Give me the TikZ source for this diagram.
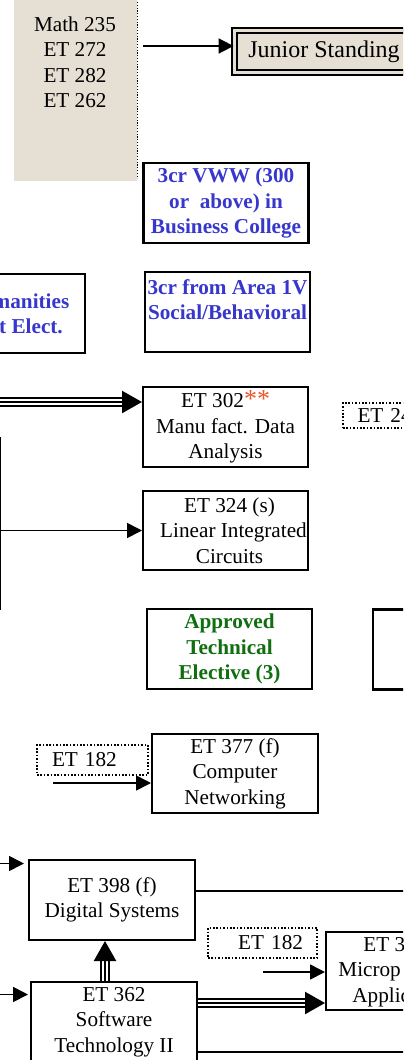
\documentclass[tikz,border=0pt]{standalone}
\usepackage{fontspec}
\setmainfont{Liberation Serif}
\usetikzlibrary{arrows.meta}

\definecolor{paper}{RGB}{229,223,212}
\definecolor{electblue}{RGB}{55,55,205}
\definecolor{electgreen}{RGB}{16,110,16}
\definecolor{starred}{RGB}{232,88,40}

\newcommand\coursefont{\fontsize{10.6}{12.75}\selectfont}
\newcommand\triplearrow[2]{
  \draw[line width=5pt, shorten >=9pt] (#1) -- (#2);
  \draw[line width=2.6pt, white, shorten >=8pt] (#1) -- (#2);
  \draw[line width=1.2pt, -{Triangle[length=10pt,width=11pt]}] (#1) -- (#2);
}

\begin{document}
\begin{tikzpicture}[
    x=0.5pt, y=-0.5pt,
    course/.style={draw, line width=1pt, align=center, font=\coursefont,
      inner sep=0pt, minimum width=82.5pt, minimum height=40pt},
    elective/.style={course, line width=1.2pt,
      font=\fontsize{10.6}{12.6}\selectfont\bfseries},
    prior/.style={draw, line width=0.8pt, dash pattern=on 0.8pt off 0.9pt,
      font=\coursefont, inner xsep=7pt, inner ysep=0pt,
      minimum height=15pt, text width=40.5pt},
    arr/.style={line width=0.85pt, -{Triangle[length=7.5pt,width=7.5pt]}}
  ]
    \path[use as bounding box] (0,0) rectangle (403,1060);
    \clip (0,0) rectangle (403,1060);

    % prerequisites and junior standing
    \node[fill=paper, inner sep=0pt, minimum width=61.5pt, minimum height=100.5pt]
      (core) at (75.5,80.5) {};
    \draw[line width=0.6pt, dash pattern=on 0.6pt off 0.8pt]
      (core.north east) -- ([yshift=1.5pt]core.south east);
    \node[font=\coursefont, align=center] (coreTxt) at (75,62)
      {Math 235\\ET 272\\ET 282\\ET 262};
    \node[draw, line width=0.9pt, double=paper, double distance=1.4pt,
      fill=paper, minimum width=89.5pt, minimum height=21pt,
      font=\fontsize{12}{14}\selectfont] (junior) at (324,51.5) {Junior Standing};
    \coordinate (toJunior) at (143,46);
    \draw[arr] (toJunior) -- (toJunior -| junior.west);

    % electives
    \node[elective, text=electblue] (vww) at (226,203)
      {3cr VWW (300\\or~ above) in\\Business College};
    \node[elective, text=electblue] (social) at (227.5,312)
      {3cr from Area 1V\\Social/Behavioral\\\mbox{}};
    \node[elective, text=electblue, minimum width=54pt, minimum height=39.5pt]
      (human) at (31,313.5) {manities\\t Elect.};
    \node[elective, text=electgreen] (appr) at (229.5,649)
      {Approved\\Technical\\Elective (3)};
    \node[course, line width=1.2pt] (rbox) at (455.5,649.5) {};

    % courses
    \node[course] (et302) at (225.5,427)
      {ET 302\textcolor{starred}{\fontsize{13}{13}\selectfont **}\\Manu fact. Data\\Analysis};
    \node[prior, align=left, minimum width=55pt, minimum height=12.5pt]
      (dot24) at (398,415.5) {ET 24};
    \node[course, minimum height=39.5pt] (et324) at (225.5,530.5)
      {\hspace*{4pt}ET 324 (s)\\\hspace*{8pt}Linear Integrated\\\hspace*{4pt}Circuits};
    \node[prior, align=left, minimum width=55.5pt] (dot182a) at (92.5,760) {ET 182};
    \node[course, minimum width=83pt, minimum height=39.5pt] (et377) at (235,773.5)
      {ET 377 (f)\\Computer\\Networking};
    \node[course, minimum width=83pt] (et398) at (112,900)
      {ET 398 (f)\\Digital Systems};
    \node[prior, align=right, minimum width=54.5pt] (dot182b) at (262.5,943) {ET 182};
    \node[course, minimum width=87pt, minimum height=39pt] (micro) at (413,971) {};
    \node[font=\coursefont, align=left, anchor=west, inner sep=0pt]
      (microTxt) at (338,972) {\hspace*{12.5pt}ET 3\\Microp\\\hspace*{7pt}Applic};
    \node[course, minimum width=83pt] (et362) at (114,1022)
      {ET 362\\Software\\Technology II};

    % connectors
    \coordinate (feed302) at (-10,402);
    \triplearrow{feed302}{feed302 -| et302.west}

    \coordinate (busTop) at (0.5,437);
    \coordinate (busBot) at (0.5,610);
    \draw[line width=0.8pt] (busTop) -- (busBot);
    \draw[arr] (busTop |- et324.west) -- (et324.west);

    \coordinate (in377) at (53,783);
    \draw[arr] (in377) -- (in377 -| et377.west);

    \coordinate (feed398) at (-10,863.5);
    \draw[arr, shorten >=2pt] (feed398) -- (feed398 -| et398.west);
    \coordinate (out398) at (420,891);
    \draw[line width=0.8pt] (out398 -| et398.east) -- (out398);

    \coordinate (feed362) at (-10,994.5);
    \draw[arr, shorten >=1pt] (feed362) -- (feed362 -| et362.west);
    \coordinate (out362) at (420,1052);
    \draw[line width=0.8pt] (out362 -| et362.east) -- (out362);

    \triplearrow{[xshift=-4.5pt]et362.north}{[xshift=-4.5pt]et362.north |- et398.south}
    \triplearrow{[yshift=9.5pt]et362.east}{[yshift=9.5pt]et362.east -| micro.west}

    \coordinate (inMicro) at (263,972);
    \draw[arr] (inMicro) -- (inMicro -| micro.west);
\end{tikzpicture}
\end{document}
